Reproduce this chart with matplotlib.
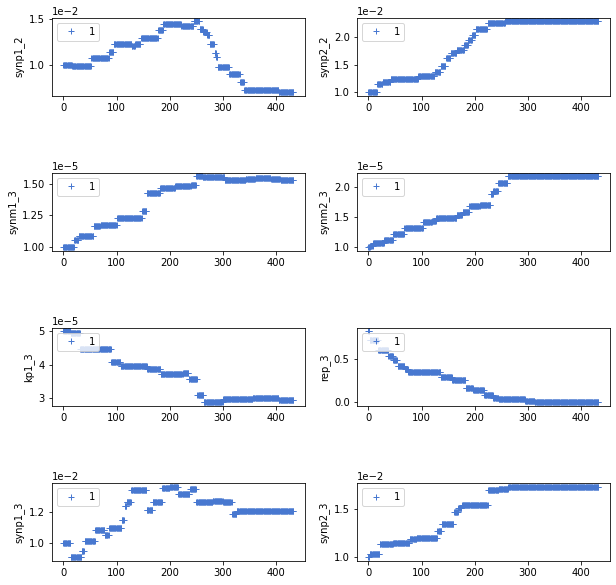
import numpy as np
import matplotlib.pyplot as plt

# samples 0..432, each series is piecewise constant (start x, level)
n_samples = 433
x = np.arange(n_samples)

synp1_2_start = [0, 17, 53, 86, 95, 129, 135, 146, 178, 188, 222, 245, 256, 263, 270, 275, 284, 287, 290, 312, 332, 340, 405]
synp1_2_level = [1.00, 0.99, 1.085, 1.14, 1.228, 1.21, 1.235, 1.30, 1.38, 1.443, 1.428, 1.478, 1.39, 1.36, 1.325, 1.236,
                 1.13, 1.09, 0.986, 0.907, 0.82, 0.73, 0.714]

synp2_2_start = [0, 17, 27, 42, 94, 125, 136, 146, 155, 166, 180, 188, 195, 202, 224, 257]
synp2_2_level = [1.0, 1.14, 1.18, 1.247, 1.295, 1.37, 1.48, 1.63, 1.71, 1.77, 1.86, 1.946, 2.05, 2.16, 2.26, 2.30]

synm1_3_start = [0, 21, 29, 57, 70, 101, 148, 157, 182, 210, 240, 250, 262, 303, 343, 361, 390, 408]
synm1_3_level = [1.0, 1.054, 1.09, 1.168, 1.174, 1.233, 1.285, 1.427, 1.464, 1.484, 1.492, 1.56, 1.552, 1.53, 1.539,
                 1.549, 1.541, 1.53]

synm2_3_start = [0, 4, 9, 30, 47, 68, 103, 120, 128, 166, 177, 190, 210, 230, 235, 244, 262]
synm2_3_level = [1.0, 1.02, 1.07, 1.126, 1.22, 1.317, 1.415, 1.44, 1.48, 1.535, 1.58, 1.683, 1.70, 1.874, 1.93, 2.055, 2.175]

kp1_3_start = [0, 14, 32, 90, 108, 158, 183, 225, 236, 252, 264, 300, 356, 405]
kp1_3_level = [5.0, 4.95, 4.48, 4.08, 3.965, 3.87, 3.70, 3.75, 3.57, 3.09, 2.86, 2.95, 2.98, 2.94]

rep_3_start = [0, 3, 19, 38, 47, 55, 69, 75, 136, 158, 183, 197, 218, 235, 245, 295, 313]
rep_3_level = [0.82, 0.72, 0.61, 0.54, 0.49, 0.42, 0.39, 0.346, 0.296, 0.254, 0.16, 0.138, 0.088, 0.054, 0.035, 0.015, 0.0]

synp1_3_start = [0, 14, 35, 40, 60, 78, 86, 110, 115, 119, 128, 157, 168, 186, 200, 216, 238, 250, 281, 300, 317, 326]
synp1_3_level = [1.0, 0.904, 0.944, 1.011, 1.083, 1.054, 1.098, 1.148, 1.243, 1.265, 1.346, 1.215, 1.265, 1.357, 1.367,
                 1.317, 1.352, 1.265, 1.272, 1.265, 1.191, 1.207]

synp2_3_start = [0, 3, 22, 47, 78, 91, 130, 138, 161, 169, 176, 225, 245, 263, 313]
synp2_3_level = [1.0, 1.038, 1.138, 1.152, 1.19, 1.2, 1.276, 1.348, 1.476, 1.517, 1.545, 1.707, 1.717, 1.731, 1.738]

panels = [
    ('synp1_2', synp1_2_start, synp1_2_level, 1e-2),
    ('synp2_2', synp2_2_start, synp2_2_level, 1e-2),
    ('synm1_3', synm1_3_start, synm1_3_level, 1e-5),
    ('synm2_3', synm2_3_start, synm2_3_level, 1e-5),
    ('kp1_3', kp1_3_start, kp1_3_level, 1e-5),
    ('rep_3', rep_3_start, rep_3_level, 1.0),
    ('synp1_3', synp1_3_start, synp1_3_level, 1e-2),
    ('synp2_3', synp2_3_start, synp2_3_level, 1e-2),
]


def expand(start, level):
    lengths = np.diff(list(start) + [n_samples])
    return np.repeat(level, lengths)


fig, axes = plt.subplots(4, 2, figsize=(616 / 72., 585 / 72.), dpi=72)
fig.subplots_adjust(left=0.084, right=0.990, bottom=0.041, top=0.970, wspace=0.205, hspace=0.99)

for ax, (name, start, level, scale) in zip(axes.flat, panels):
    y = expand(start, level) * scale
    ax.plot(x, y, '+', color='#4878d0', label='1')
    ax.set_ylabel(name)
    if scale != 1.0:
        # force the 1e-2 / 1e-5 offset text
        ax.ticklabel_format(axis='y', style='sci', scilimits=(0, 0))
    ax.legend(loc='upper left')

fig.savefig('out.png', dpi=72)
